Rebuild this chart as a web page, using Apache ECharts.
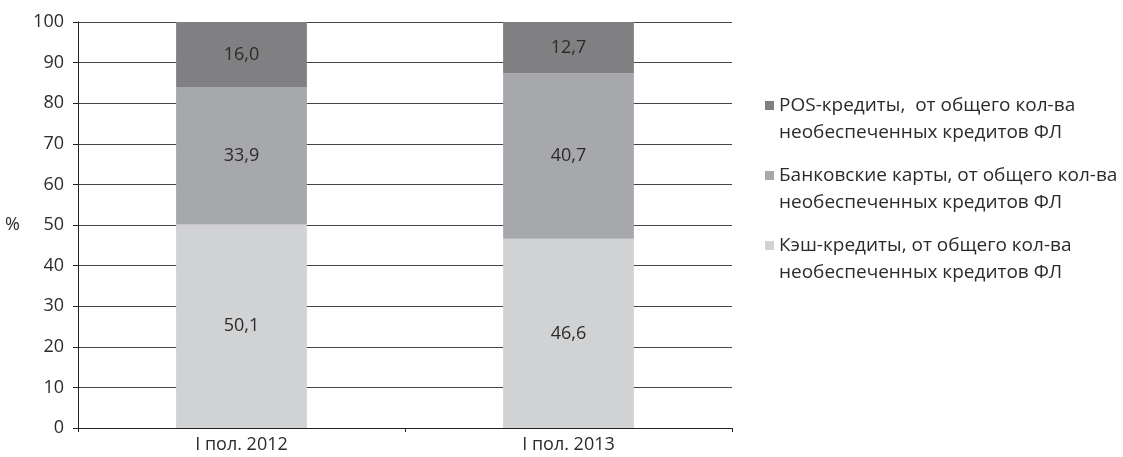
<!DOCTYPE html>
<html>
<head>
<meta charset="utf-8">
<script src="https://cdn.jsdelivr.net/npm/echarts@6/dist/echarts.min.js"></script>
<style>html,body{margin:0;padding:0;background:#fff}#c{width:1123px;height:457px}</style>
</head>
<body>
<div id="c"></div>
<script>
const categories = ['I пол. 2012', 'I пол. 2013'];
const cashValues = [50.1, 46.6];
const cardValues = [33.9, 40.7];
const posValues = [16.0, 12.7];
const seriesNames = [
  'Кэш-кредиты, от общего кол-ва\nнеобеспеченных кредитов ФЛ',
  'Банковские карты, от общего кол-ва\nнеобеспеченных кредитов ФЛ',
  'POS-кредиты,  от общего кол-ва\nнеобеспеченных кредитов ФЛ'
];
const yTicks = [0, 10, 20, 30, 40, 50, 60, 70, 80, 90, 100];

const FONT = 'Open Sans';
const FS = 18;
const chart = echarts.init(document.getElementById('c'), null, {renderer: 'canvas'});
const fmt = p => p.value.toFixed(1).replace('.', ',');
const labelStyle = {show: true, position: 'inside', formatter: fmt, color: '#2b2b2b', fontFamily: FONT, fontSize: FS};

chart.setOption({
  animation: false,
  textStyle: {fontFamily: FONT},
  grid: {left: 78, right: 391, top: 22, bottom: 29, containLabel: false},
  xAxis: {
    type: 'category',
    data: categories,
    axisLine: {lineStyle: {color: '#222', width: 1}},
    axisTick: {show: true, alignWithLabel: false, length: 4, lineStyle: {color: '#222'}},
    axisLabel: {color: '#2b2b2b', fontSize: FS, fontFamily: FONT, margin: 8}
  },
  yAxis: {
    type: 'value',
    min: yTicks[0], max: yTicks[yTicks.length - 1], interval: 10,
    name: '%',
    nameLocation: 'middle',
    nameRotate: 0,
    nameGap: 58,
    nameTextStyle: {color: '#2b2b2b', fontSize: FS, fontFamily: FONT},
    axisLine: {show: true, lineStyle: {color: '#222', width: 1}},
    axisTick: {show: true, length: 5, lineStyle: {color: '#222'}},
    axisLabel: {color: '#2b2b2b', fontSize: FS, fontFamily: FONT, margin: 14},
    splitLine: {show: true, lineStyle: {color: '#444', width: 1}}
  },
  legend: {
    orient: 'vertical',
    left: 760,
    top: 60,
    itemWidth: 9,
    itemHeight: 9,
    itemGap: -11,
    icon: 'rect',
    data: [seriesNames[2], seriesNames[1], seriesNames[0]],
    formatter: name => '\n' + name,
    textStyle: {color: '#2b2b2b', fontSize: 19, fontFamily: FONT, lineHeight: 27},
    selectedMode: false
  },
  series: [
    {name: seriesNames[0], type: 'bar', stack: 's', data: cashValues, barWidth: '40%', itemStyle: {color: '#d1d2d4'}, label: labelStyle},
    {name: seriesNames[1], type: 'bar', stack: 's', data: cardValues, barWidth: '40%', itemStyle: {color: '#a7a8ab'}, label: labelStyle},
    {name: seriesNames[2], type: 'bar', stack: 's', data: posValues, barWidth: '40%', itemStyle: {color: '#808083'}, label: labelStyle}
  ]
});
</script>
</body>
</html>
